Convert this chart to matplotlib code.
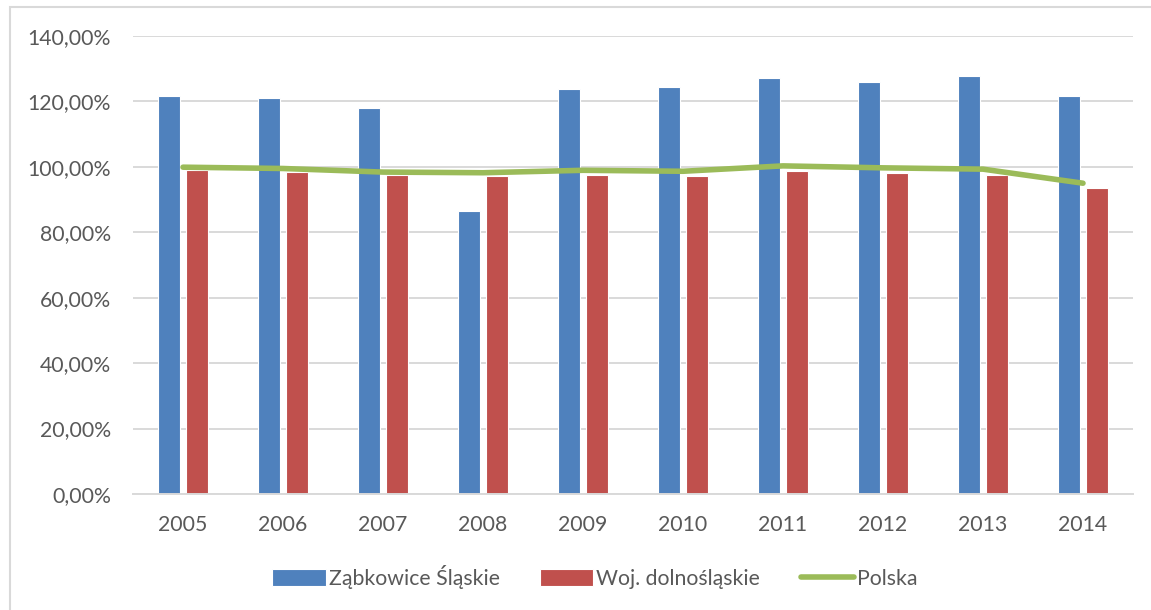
import matplotlib
matplotlib.use("Agg")
import matplotlib.pyplot as plt
from matplotlib.patches import Rectangle
from matplotlib.ticker import FuncFormatter, MultipleLocator

years = ["2005", "2006", "2007", "2008", "2009", "2010", "2011", "2012", "2013", "2014"]
zabkowice = [121.7, 120.9, 118.1, 86.6, 123.8, 124.4, 127.2, 126.0, 127.8, 121.7]
dolnoslaskie = [99.0, 98.4, 97.6, 97.1, 97.6, 97.2, 98.85, 98.0, 97.5, 93.4]
polska = [99.9, 99.5, 98.4, 98.2, 98.95, 98.65, 100.3, 99.7, 99.3, 95.0]
series_names = ["Ząbkowice Śląskie", "Woj. dolnośląskie", "Polska"]

W, H = 1151, 610
plt.rcParams["font.family"] = ["Lato", "DejaVu Sans"]
fig = plt.figure(figsize=(W / 100, H / 100), dpi=100)

# outer chart frame (partly cut off by the image edges)
fig.patches.append(Rectangle((10 / W, -0.05), 1.2, 1 - 7 / H + 0.05,
                             transform=fig.transFigure, fill=False,
                             edgecolor="#d9d9d9", linewidth=1.5, zorder=0))

ax = fig.add_axes([133 / W, 1 - 494 / H, 1000 / W, (494 - 36) / H])
x = list(range(len(years)))
bw = 0.22
off = 0.143
b1 = ax.bar([i - off for i in x], zabkowice, width=bw, color="#4f81bd",
            edgecolor="white", linewidth=0.8, label=series_names[0], zorder=2)
b2 = ax.bar([i + off for i in x], dolnoslaskie, width=bw, color="#c0504d",
            edgecolor="white", linewidth=0.8, label=series_names[1], zorder=2)
l1, = ax.plot(x, polska, color="#9bbb59", linewidth=4, solid_capstyle="round",
              label=series_names[2], zorder=3)

ax.set_xlim(-0.5, 9.5)
ax.set_ylim(0, 140)
ax.yaxis.set_major_locator(MultipleLocator(20))
ax.yaxis.set_major_formatter(FuncFormatter(lambda v, p: f"{v:.2f}".replace(".", ",") + "%"))
ax.set_xticks(x)
ax.set_xticklabels(years)
ax.grid(axis="y", color="#d9d9d9", linewidth=1.4, zorder=0)
ax.set_axisbelow(True)
for s in ["top", "right", "left"]:
    ax.spines[s].set_visible(False)
ax.spines["bottom"].set_color("#d9d9d9")
ax.spines["bottom"].set_linewidth(1.4)
ax.tick_params(axis="both", length=0, labelsize=15.3, labelcolor="#595959")
ax.tick_params(axis="y", pad=16)
ax.tick_params(axis="x", pad=15)

fig.legend(handles=[b1, b2, l1], labels=series_names,
           loc="center", bbox_to_anchor=(595 / W, 1 - 577 / H), ncol=3,
           frameon=False, fontsize=15.3, labelcolor="#595959",
           handlelength=2.5, handletextpad=0.15, columnspacing=1.9,
           handleheight=0.8)

fig.savefig("out.png", dpi=100)
